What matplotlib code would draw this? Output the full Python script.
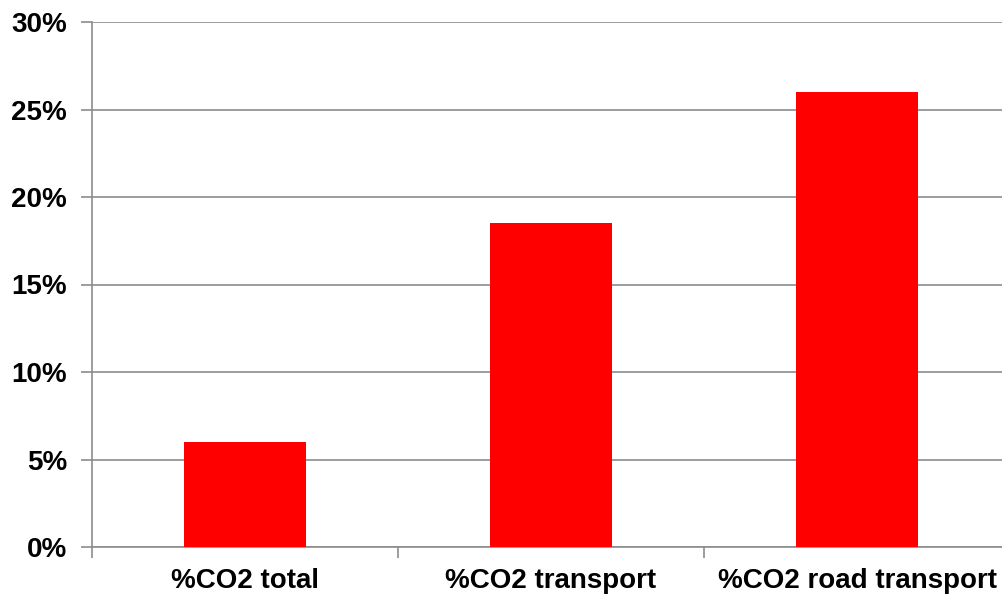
import matplotlib.pyplot as plt
from matplotlib.ticker import FixedLocator, PercentFormatter

# data
categories = ['%CO2 total', '%CO2 transport', '%CO2 road transport']
values = [6.0, 18.5, 26.0]

plt.rcParams['font.family'] = ['Liberation Sans', 'DejaVu Sans']

fig = plt.figure(figsize=(10.02, 5.94), dpi=100)
ax = fig.add_axes([92 / 1002, 1 - 547 / 594, 918 / 1002, 525 / 594])

x = range(len(categories))
ax.bar(x, values, width=0.4, color='#ff0000', zorder=3)

ax.set_xlim(-0.5, len(categories) - 0.5)
ax.set_ylim(0, 30)
ax.set_yticks(range(0, 31, 5))
ax.yaxis.set_major_formatter(PercentFormatter(decimals=0))
ax.yaxis.grid(True, color='#8c8c8c', linewidth=1.2, zorder=0)

ax.set_xticks(list(x))
ax.set_xticklabels(categories)
ax.xaxis.set_minor_locator(FixedLocator([-0.5, 0.5, 1.5]))
ax.tick_params(axis='x', which='major', length=0, pad=15)
ax.tick_params(axis='x', which='minor', length=8, width=1.2, color='#8c8c8c')
ax.tick_params(axis='y', length=8, width=1.2, color='#8c8c8c', pad=10)

for lab in ax.get_xticklabels() + ax.get_yticklabels():
    lab.set_fontsize(20)
    lab.set_fontweight('bold')

for side in ['top', 'right']:
    ax.spines[side].set_visible(False)
for side in ['left', 'bottom']:
    ax.spines[side].set_color('#8c8c8c')
    ax.spines[side].set_linewidth(1.2)

fig.savefig('out.png', dpi=100)
